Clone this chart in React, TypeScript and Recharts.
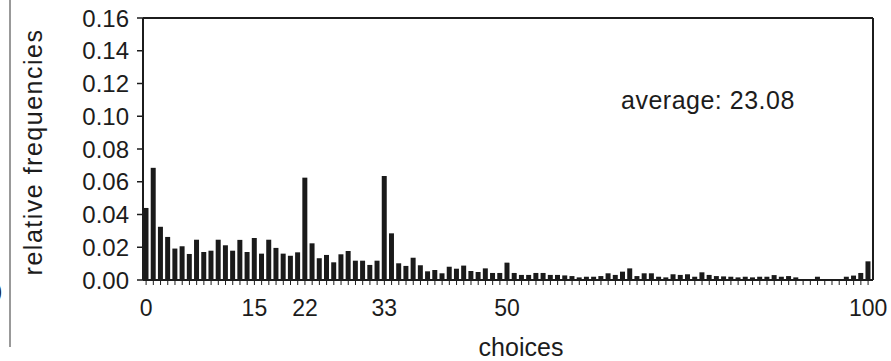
import { Bar, BarChart, Label, ReferenceLine, XAxis, YAxis } from 'recharts';

// choices 0..100, relative frequency of each choice
const freqs: number[] = [
	0.044, 0.0685, 0.0325, 0.0263, 0.0192, 0.0206, 0.0159, 0.0246, 0.0171, 0.0179,
	0.0246, 0.0212, 0.0179, 0.0245, 0.0171, 0.0257, 0.0161, 0.0246, 0.0196, 0.0161,
	0.0148, 0.0169, 0.0625, 0.0224, 0.0133, 0.0153, 0.0108, 0.0157, 0.0177, 0.0118,
	0.0118, 0.0092, 0.0118, 0.0635, 0.0285, 0.0102, 0.0086, 0.0136, 0.009, 0.0053,
	0.0061, 0.0041, 0.0081, 0.0069, 0.0088, 0.0055, 0.0049, 0.0071, 0.0043, 0.0043,
	0.0106, 0.0043, 0.0031, 0.0031, 0.0043, 0.0043, 0.0031, 0.0031, 0.0028, 0.0024,
	0.0016, 0.002, 0.002, 0.0024, 0.0041, 0.0031, 0.0051, 0.0071, 0.0024, 0.0041,
	0.0041, 0.002, 0.0016, 0.0035, 0.0031, 0.0035, 0.002, 0.0047, 0.0031, 0.0024,
	0.0022, 0.002, 0.0016, 0.002, 0.0016, 0.002, 0.002, 0.003, 0.002, 0.0024,
	0.0016, 0, 0, 0.002, 0, 0, 0, 0.002, 0.0027, 0.0043,
	0.0114,
];

const labelledChoices = [0, 15, 22, 33, 50, 100];
const yTicks = [0, 0.02, 0.04, 0.06, 0.08, 0.1, 0.12, 0.14, 0.16];
const average = 23.08;

const rows = freqs.map((freq, choice) => ({ choice, freq }));
const minorTicks = rows.map((r) => r.choice);

const FONT = '"Liberation Sans", Arial, Helvetica, sans-serif';
const INK = '#1c1c1c';
const X_MAX = 100.68;

function ChoiceTick(props: any) {
	const { x, y, payload } = props;
	if (!labelledChoices.includes(payload.value)) return <g />;
	return (
		<text x={x} y={y} dy="0.71em" textAnchor="middle" fill={INK} fontSize={23} fontFamily={FONT}>
			{payload.value}
		</text>
	);
}

export default function App() {
	return (
		<div style={{ position: 'absolute', left: 0, top: 0, width: 891, height: 361, background: '#fff' }}>
			<svg
				width={891}
				height={361}
				style={{ position: 'absolute', left: 0, top: 0, pointerEvents: 'none' }}
			>
				<line x1={10} y1={0} x2={10} y2={347} stroke="#555" strokeWidth={1.2} />
				<text x={-5} y={298} fontSize={22} fontFamily={FONT} fill={INK}>
					)
				</text>
			</svg>
			<BarChart
				width={891}
				height={361}
				data={rows}
				margin={{ top: 18, right: 18, bottom: 0, left: 0 }}
				style={{ position: 'absolute', left: 0, top: 0 }}
			>
				<XAxis
					dataKey="choice"
					type="number"
					domain={[-0.43, X_MAX]}
					allowDataOverflow
					ticks={minorTicks}
					interval={0}
					tick={<ChoiceTick />}
					tickSize={5}
					tickMargin={15}
					tickLine={{ stroke: INK, strokeWidth: 1 }}
					axisLine={{ stroke: INK, strokeWidth: 2 }}
					height={81}
				>
					<Label
						content={() => (
							<text x={521} y={356} textAnchor="middle" fill={INK} fontSize={25} fontFamily={FONT}>
								choices
							</text>
						)}
					/>
				</XAxis>
				<YAxis
					type="number"
					domain={[0, 0.16]}
					ticks={yTicks}
					interval={0}
					tickFormatter={(v: number) => v.toFixed(2)}
					tick={{ fill: INK, fontSize: 24, fontFamily: FONT }}
					tickSize={6}
					tickMargin={8}
					tickLine={{ stroke: INK, strokeWidth: 1.5 }}
					axisLine={{ stroke: INK, strokeWidth: 2 }}
					width={143}
				>
					<Label
						content={() => (
							<text
								x={42}
								y={152}
								transform="rotate(-90, 42, 152)"
								textAnchor="middle"
								fill={INK}
								fontSize={25}
								letterSpacing={1.5}
								fontFamily={FONT}
							>
								relative frequencies
							</text>
						)}
					/>
				</YAxis>
				<ReferenceLine y={0.16} stroke={INK} strokeWidth={2} />
				<ReferenceLine x={X_MAX} stroke={INK} strokeWidth={2} />
				<ReferenceLine
					y={0.16}
					stroke="none"
					label={{
						content: () => (
							<text x={621} y={109} fill={INK} fontSize={25} letterSpacing={0.5} fontFamily={FONT}>
								{`average: ${average.toFixed(2)}`}
							</text>
						),
					}}
				/>
				<Bar dataKey="freq" fill="#1a1a1a" barSize={5} isAnimationActive={false} />
			</BarChart>
		</div>
	);
}
